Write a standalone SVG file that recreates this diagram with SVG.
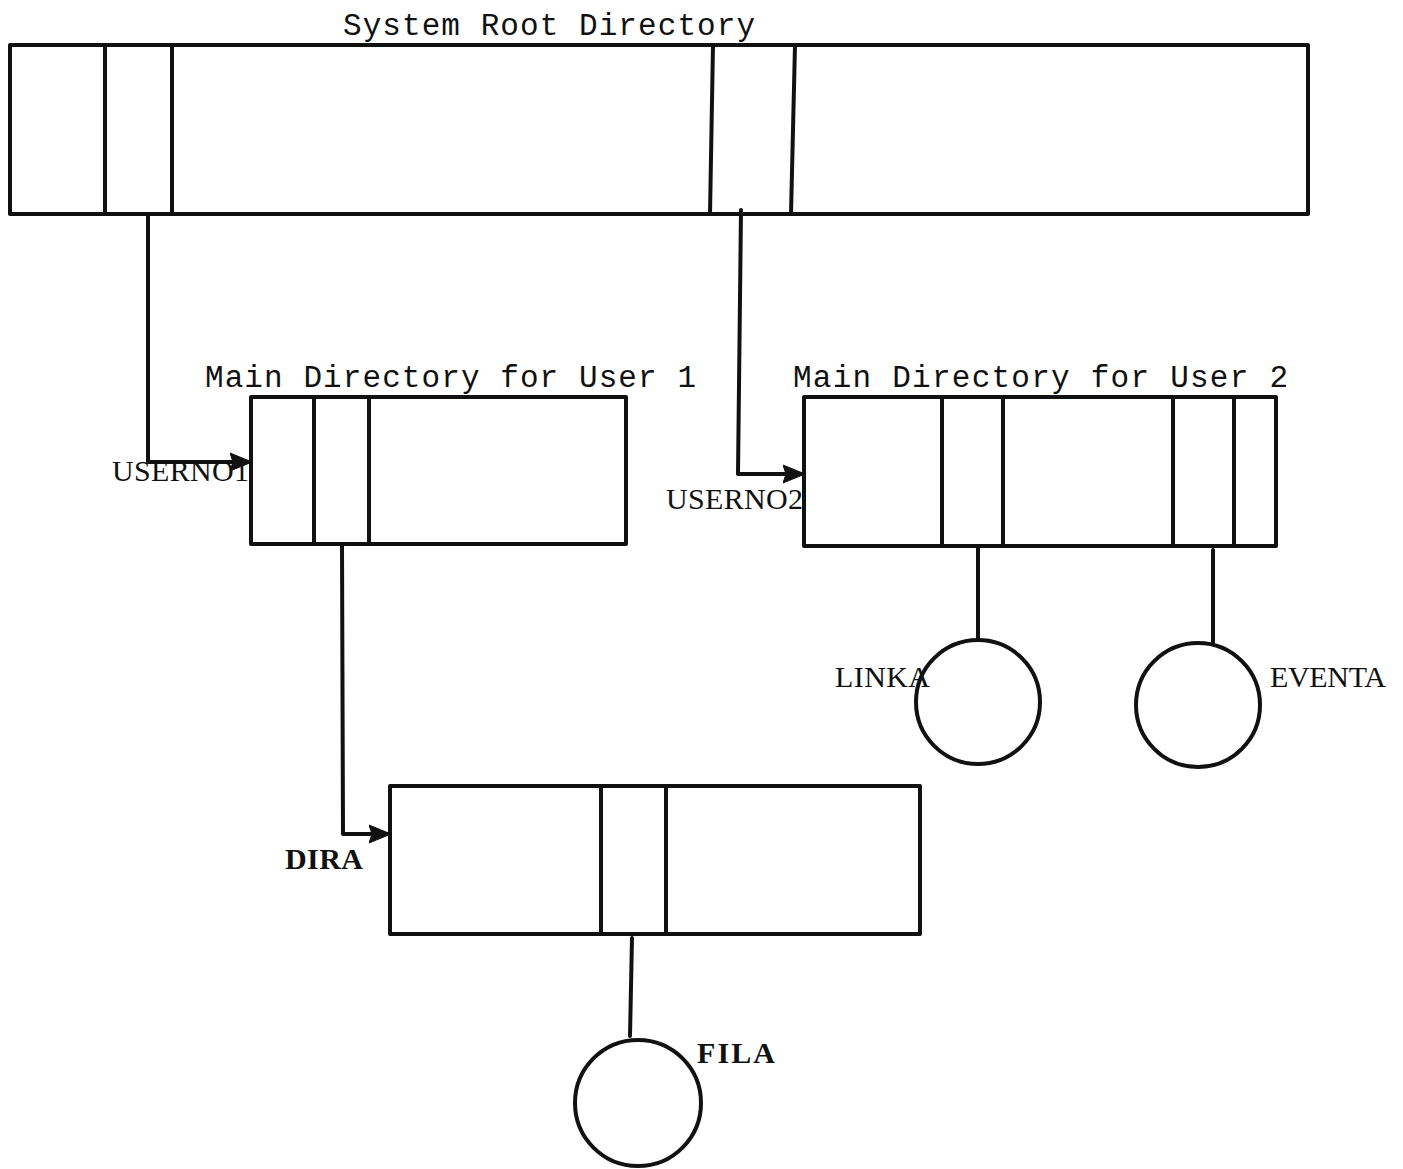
<svg xmlns="http://www.w3.org/2000/svg" width="1403" height="1169" viewBox="0 0 1403 1169">
<style>
.s{fill:none;stroke:#111;stroke-width:4;stroke-linecap:round;stroke-linejoin:round}
.t{font-family:"Liberation Mono","DejaVu Sans Mono",monospace;font-size:31px;fill:#111}
.l{font-family:"Liberation Serif","DejaVu Serif",serif;font-size:30px;fill:#111}
.b{font-weight:bold}
</style>
<defs>
<marker id="ah2" viewBox="0 0 22 22" refX="21" refY="11" markerWidth="22" markerHeight="22" orient="auto" markerUnits="userSpaceOnUse">
<path d="M0,2 L22,11 L0,20 L3,11 z" fill="#111" stroke="#111" stroke-width="1"/>
</marker>
</defs>
<rect width="1403" height="1169" fill="#fff"/>
<g id="root">
<text class="t" x="343" y="35" textLength="412">System Root Directory</text>
<rect class="s" x="10" y="45" width="1298" height="169"/>
<line class="s" x1="105" y1="45" x2="105" y2="214"/>
<line class="s" x1="172" y1="45" x2="172" y2="214"/>
<line class="s" x1="713" y1="45" x2="710" y2="214"/>
<line class="s" x1="795" y1="45" x2="791" y2="214"/>
</g>
<g id="user1">
<text class="t" x="205" y="387" textLength="491">Main Directory for User 1</text>
<rect class="s" x="251" y="397" width="375" height="147"/>
<line class="s" x1="314" y1="397" x2="314" y2="544"/>
<line class="s" x1="369" y1="397" x2="369" y2="544"/>
</g>
<g id="user2">
<text class="t" x="793" y="387" textLength="495">Main Directory for User 2</text>
<rect class="s" x="804" y="397" width="472" height="149"/>
<line class="s" x1="942" y1="397" x2="942" y2="546"/>
<line class="s" x1="1003" y1="397" x2="1003" y2="546"/>
<line class="s" x1="1173" y1="397" x2="1173" y2="546"/>
<line class="s" x1="1234" y1="397" x2="1234" y2="546"/>
</g>
<g id="dira">
<rect class="s" x="390" y="786" width="530" height="148"/>
<line class="s" x1="601" y1="786" x2="601" y2="934"/>
<line class="s" x1="666" y1="786" x2="666" y2="934"/>
</g>
<g id="linka">
<circle class="s" cx="978" cy="702" r="62"/>
</g>
<g id="eventa">
<circle class="s" cx="1198" cy="705" r="62"/>
</g>
<g id="fila">
<circle class="s" cx="638" cy="1103" r="63"/>
</g>
<g id="connectors">
<polyline class="s" points="148,214 148,462 251,462" marker-end="url(#ah2)"/>
<polyline class="s" points="741,210 738,474 804,474" marker-end="url(#ah2)"/>
<polyline class="s" points="342,546 343,834 390,834" marker-end="url(#ah2)"/>
<line class="s" x1="978" y1="548" x2="978" y2="640"/>
<line class="s" x1="1213" y1="550" x2="1213" y2="643"/>
<line class="s" x1="632" y1="938" x2="630" y2="1036"/>
</g>
<g id="labels">
<text class="l" x="112" y="481" textLength="137">USERNO1</text>
<text class="l" x="666" y="509" textLength="137">USERNO2</text>
<text class="l b" x="285" y="869" textLength="78">DIRA</text>
<text class="l" x="835" y="687" textLength="95">LINKA</text>
<text class="l" x="1270" y="687" textLength="116">EVENTA</text>
<text class="l b" x="697" y="1063" textLength="78">FILA</text>
</g>
</svg>
